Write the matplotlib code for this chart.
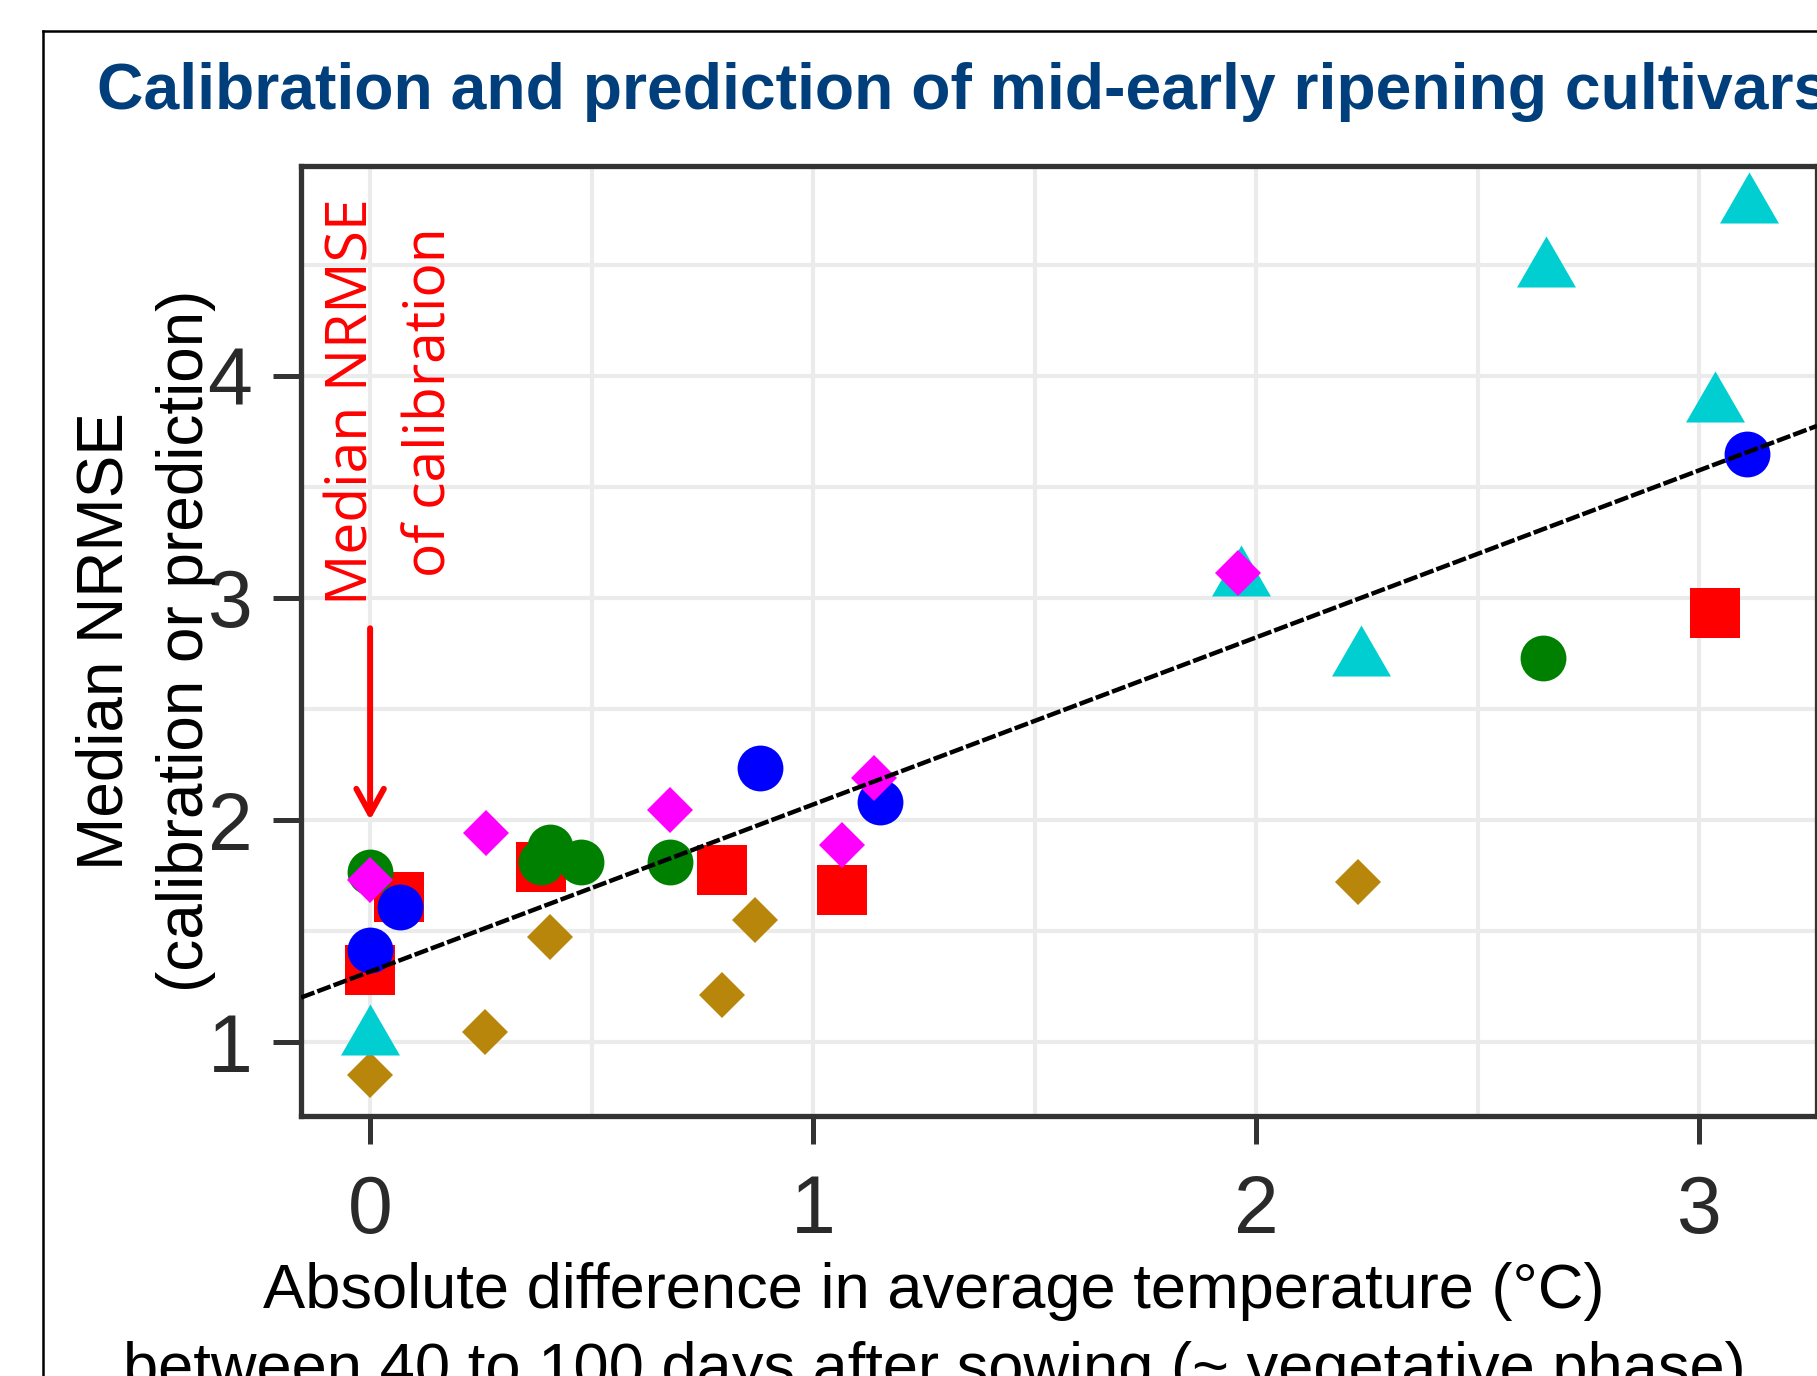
import matplotlib
matplotlib.use("Agg")
import matplotlib.pyplot as plt
from matplotlib.path import Path
from matplotlib.lines import Line2D

plt.rcParams['font.family'] = ['Liberation Sans', 'DejaVu Sans']

# values
red_x = [0.0, 0.065, 0.385, 0.795, 1.066, 3.035]
red_y = [1.327, 1.654, 1.788, 1.776, 1.685, 2.932]
green_x = [0.0, 0.385, 0.407, 0.475, 0.678, 2.647]
green_y = [1.765, 1.81, 1.877, 1.81, 1.81, 2.729]
blue_x = [0.0, 0.068, 0.879, 1.15, 3.108]
blue_y = [1.415, 1.607, 2.233, 2.08, 3.646]
gold_x = [0.0, 0.26, 0.407, 0.795, 0.868, 2.231]
gold_y = [0.853, 1.045, 1.473, 1.213, 1.55, 1.72]
cyan_x = [0.0, 1.966, 2.237, 2.654, 3.035, 3.113]
cyan_y = [1.02, 3.084, 2.724, 4.477, 3.869, 4.764]
magenta_x = [0.0, 0.261, 0.678, 1.066, 1.138, 1.96]
magenta_y = [1.73, 1.942, 2.045, 1.888, 2.188, 3.11]

fit_intercept = 1.318
fit_slope = 0.752

calib_arrow_from = 2.863
calib_arrow_to = 2.0

x_ticks = [0, 1, 2, 3]
x_minor = [0.5, 1.5, 2.5]
y_ticks = [1, 2, 3, 4]
y_minor = [1.5, 2.5, 3.5, 4.5]

title = "Calibration and prediction of mid-early ripening cultivars"
xlabel = ("Absolute difference in average temperature (°C)\n"
          "between 40 to 100 days after sowing (~ vegetative phase)")
ylabel = "Median NRMSE\n(calibration or prediction)"
note = "Median NRMSE\nof calibration"

# equilateral triangle centred on its centroid (like ggplot shape 17)
tri = Path([(-1, -0.57735), (1, -0.57735), (0, 1.1547), (-1, -0.57735)],
           [Path.MOVETO, Path.LINETO, Path.LINETO, Path.CLOSEPOLY])

fig = plt.figure(figsize=(18.17, 13.76), dpi=100)
ax = fig.add_axes([0.1657, 0.189, 0.8343, 0.6907])

series = [
    (red_x, red_y, '#ff0000', 's', 35.3, 3),
    (green_x, green_y, '#008000', 'o', 33, 4),
    (blue_x, blue_y, '#0000ff', 'o', 33, 5),
    (gold_x, gold_y, '#b8860b', 'D', 23.5, 6),
    (cyan_x, cyan_y, '#00ced1', tri, 49, 7),
    (magenta_x, magenta_y, '#ff00ff', 'D', 23.5, 8),
]
for xs, ys, col, mk, ms, z in series:
    ax.plot(xs, ys, ls='none', marker=mk, ms=ms, mfc=col, mec='none',
            mew=0, zorder=z)

ax.axline((0, fit_intercept), slope=fit_slope, color='black', lw=3.2,
          ls=(0, (3.2, 0.7)), zorder=10)

ax.annotate('', xy=(0, calib_arrow_to), xytext=(0, calib_arrow_from),
            arrowprops=dict(arrowstyle='->,head_length=0.6,head_width=0.33',
                            color='red', lw=4.3, shrinkA=0, shrinkB=0,
                            mutation_scale=30), zorder=9)
ax.text(-0.104, 3.882, note, rotation=90, rotation_mode='anchor',
        ha='center', va='top', color='red', fontsize=41,
        family='Open Sans', linespacing=1.5, zorder=9)

ax.set_xlim(-0.1558, 3.266)
ax.set_ylim(0.668, 4.946)
ax.set_xticks(x_ticks)
ax.set_xticks(x_minor, minor=True)
ax.set_yticks(y_ticks)
ax.set_yticks(y_minor, minor=True)
ax.grid(which='both', color='#ebebeb', lw=3)
ax.set_axisbelow(True)
for sp in ax.spines.values():
    sp.set_color('#333333')
    sp.set_linewidth(3.8)
ax.tick_params(which='major', length=20, width=3.6, color='#333333',
               labelsize=58, labelcolor='#2a2a2a')
ax.tick_params(axis='x', pad=22)
ax.tick_params(axis='y', pad=15)
ax.tick_params(which='minor', length=0)
for lbl in ax.get_xticklabels() + ax.get_yticklabels():
    lbl.set_family(['Liberation Sans Narrow', 'Liberation Sans'])

ax.set_xlabel(xlabel, fontsize=45.5, linespacing=1.45, color='black')
ax.xaxis.set_label_coords(0.4175, -0.1533)
ax.xaxis.label.set_va('top')
ax.set_ylabel(ylabel, fontsize=46, linespacing=1.42, color='black')
ax.yaxis.set_label_coords(-0.1485, 0.5)
ax.yaxis.label.set_va('top')

fig.text(97 / 1817, 1 - 109.3 / 1376, title, fontsize=46.3,
         fontweight='bold', color='#003f7b', ha='left', va='baseline')

# outer frame, only its left and top edges fall inside the picture
fx, fy = 43 / 1817, 1 - 31 / 1376
fig.add_artist(Line2D([fx, fx], [0, fy], color='black', lw=1.8))
fig.add_artist(Line2D([fx, 1], [fy, fy], color='black', lw=1.8))

fig.savefig('out.png', dpi=100)
